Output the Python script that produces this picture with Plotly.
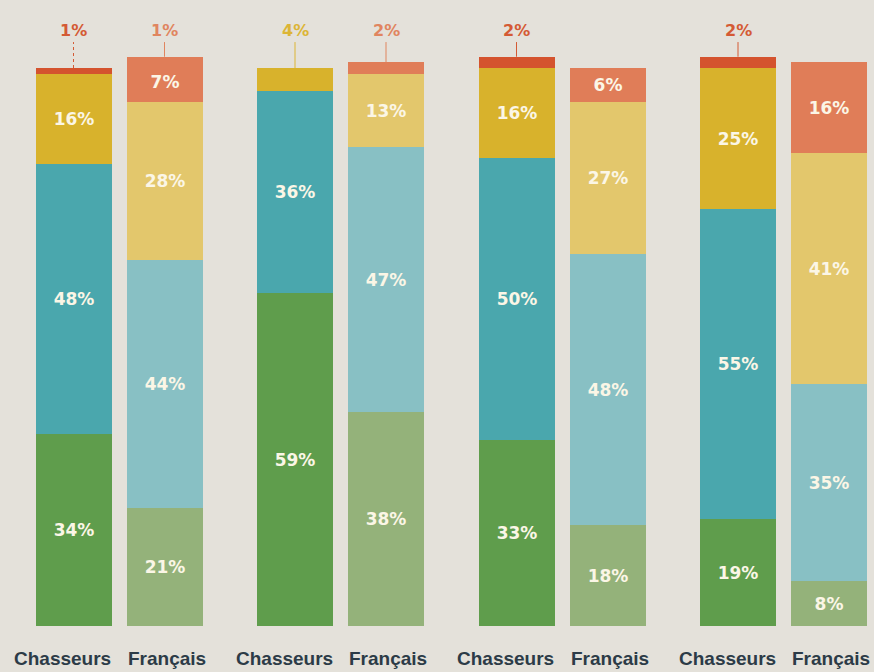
import plotly.graph_objects as go

# ---- data ----
groups = 4
bar_types = ["Chasseurs", "Français"]
# stack levels from bottom to top
green_ch = [34, 59, 33, 19]
green_fr = [21, 38, 18, 8]
blue_ch = [48, 36, 50, 55]
blue_fr = [44, 47, 48, 35]
yellow_ch = [16, 4, 16, 25]
yellow_fr = [28, 13, 27, 41]
orange_ch = [0, 0, 0, 0]
orange_fr = [7, 0, 6, 16]
top_ch = [1, 0, 2, 2]
top_fr = [1, 2, 0, 0]

colors_ch = {"green": "#5f9d4c", "blue": "#4aa7ad", "yellow": "#d8b22c", "orange": "#e07a55", "top": "#d4532e"}
colors_fr = {"green": "#94b27a", "blue": "#88c0c4", "yellow": "#e3c76c", "orange": "#e07d58", "top": "#e07d58"}
label_colors = {"top_ch": "#d45a34", "top_fr": "#e0855f", "yellow_ch": "#dcb535"}

# ---- layout helpers ----
group_pitch = 221.5
pair_offset = 91
first_center = 73.5
bar_w = 76

xs, cats = [], []
for g in range(groups):
    for j, t in enumerate(bar_types):
        xs.append(first_center + g * group_pitch + j * pair_offset)
        cats.append(t)


def interleave(a, b):
    out = []
    for u, v in zip(a, b):
        out += [u, v]
    return out


levels = [
    ("green", green_ch, green_fr),
    ("blue", blue_ch, blue_fr),
    ("yellow", yellow_ch, yellow_fr),
    ("orange", orange_ch, orange_fr),
    ("top", top_ch, top_fr),
]

fig = go.Figure()
for name, ch, fr in levels:
    vals = interleave(ch, fr)
    cols = interleave([colors_ch[name]] * groups, [colors_fr[name]] * groups)
    texts = [f"{v}%" if v >= 5 else "" for v in vals]
    fig.add_trace(go.Bar(
        x=xs, y=vals, width=bar_w, name=name,
        marker=dict(color=cols, line=dict(width=0)),
        text=texts, textposition="inside", insidetextanchor="middle",
        textangle=0, constraintext="none",
        textfont=dict(family="DejaVu Sans", size=17, color="#fbf6e6", weight="bold"),
        hoverinfo="skip", showlegend=False,
    ))

# small values labelled above bars
label_y = 105.7
line_top = 103.6
for i, x in enumerate(xs):
    g, j = divmod(i, 2)
    totals = sum(l[1 + j][g] for l in levels)
    small = None
    for name, ch, fr in levels:
        v = (ch if j == 0 else fr)[g]
        if 0 < v < 5:
            small = (name, v)
    if small is None:
        continue
    name, v = small
    if name == "top":
        col = label_colors["top_ch"] if j == 0 else label_colors["top_fr"]
    else:
        col = label_colors["yellow_ch"]
    fig.add_annotation(x=x, y=label_y, xref="x", yref="y", text=f"{v}%",
                       showarrow=False,
                       font=dict(family="DejaVu Sans", size=16, color=col, weight="bold"))
    fig.add_shape(type="line", x0=x, x1=x, y0=totals, y1=line_top, xref="x", yref="y",
                  line=dict(color=col, width=1, dash="dot" if i == 0 else "solid"))

# category labels under the bars
for x, c in zip(xs, cats):
    fig.add_annotation(x=x, y=0, xref="x", yref="y", text=c, showarrow=False,
                       yanchor="middle", yshift=-32, xshift=-11 if c == "Chasseurs" else 2,
                       font=dict(family="Liberation Sans", size=19, color="#2c3b47", weight="bold"))

fig.update_layout(
    barmode="stack",
    width=874, height=672,
    margin=dict(l=0, r=0, t=6, b=46, autoexpand=False),
    paper_bgcolor="#e4e1da", plot_bgcolor="#e4e1da",
    bargap=0,
)
fig.update_xaxes(range=[0, 874], showticklabels=False, showgrid=False, zeroline=False,
                 showline=False, ticks="", automargin=False)
fig.update_yaxes(range=[0, 110], visible=False, showgrid=False, zeroline=False, automargin=False)

fig.write_html("out.html")
